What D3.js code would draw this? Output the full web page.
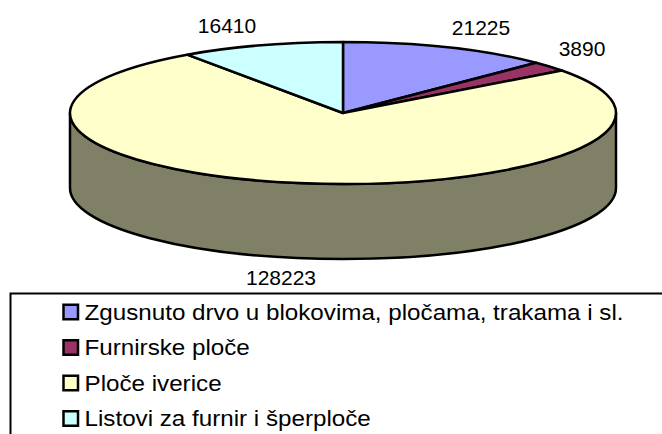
<!DOCTYPE html>
<html>
<head>
<meta charset="utf-8">
<script src="https://d3js.org/d3.v7.min.js"></script>
<style>
  html, body { margin: 0; padding: 0; background: #fff; overflow: hidden; }
  text { font-family: "Liberation Sans", Arial, sans-serif; fill: #000; }
</style>
</head>
<body>
<div id="visualization"></div>
<script>
const categories = ["Zgusnuto drvo u blokovima, pločama, trakama i sl.", "Furnirske ploče", "Ploče iverice", "Listovi za furnir i šperploče"];
const values = [21225, 3890, 128223, 16410];
const sliceColors = ["#9999ff", "#993366", "#ffffcc", "#ccffff"];
const sideColor = "#808066";

const width = 662, height = 434;
const cx = 343, cy = 113, rx = 273, ry = 71, depth = 75;

// where each value label sits, same order as values
const labelX = [481, 582, 281, 227];
const labelY = [35, 56, 285, 33];

const svg = d3.select("#visualization")
    .append("svg")
    .attr("width", width)
    .attr("height", height)
    .style("display", "block");

const pieData = d3.pie().sort(null)(values);
const arc = d3.arc().innerRadius(0).outerRadius(rx);

// side wall first, the top of the pie goes over it
svg.append("path")
    .attr("d", `M${cx - rx},${cy} A${rx},${ry} 0 0 0 ${cx + rx},${cy} V${cy + depth} A${rx},${ry} 0 0 1 ${cx - rx},${cy + depth} Z`)
    .attr("fill", sideColor)
    .attr("stroke", "#000")
    .attr("stroke-width", 2.5);

svg.append("g")
    .attr("transform", `translate(${cx},${cy}) scale(1,${ry / rx})`)
    .selectAll("path")
    .data(pieData)
    .enter()
    .append("path")
        .attr("d", arc)
        .attr("fill", (d, i) => sliceColors[i])
        .attr("stroke", "#000")
        .attr("stroke-width", 2.5)
        .attr("stroke-linejoin", "round")
        .attr("vector-effect", "non-scaling-stroke");

svg.selectAll(".value-label")
    .data(values)
    .enter()
    .append("text")
        .attr("class", "value-label")
        .attr("x", (d, i) => labelX[i])
        .attr("y", (d, i) => labelY[i])
        .attr("text-anchor", "middle")
        .style("font-size", "21px")
        .text(d => d);

// legend box runs off the right and bottom of the picture
svg.append("rect")
    .attr("x", 10.5)
    .attr("y", 293.5)
    .attr("width", 700)
    .attr("height", 200)
    .attr("fill", "#fff")
    .attr("stroke", "#000")
    .attr("stroke-width", 2);

const legendY = d3.scalePoint()
    .domain(categories)
    .range([312, 418.5]);

const legend = svg.selectAll(".legend-row")
    .data(categories)
    .enter()
    .append("g")
        .attr("class", "legend-row")
        .attr("transform", d => `translate(0,${legendY(d)})`);

legend.append("rect")
    .attr("x", 63.5)
    .attr("y", -7.25)
    .attr("width", 14.5)
    .attr("height", 14.5)
    .attr("fill", (d, i) => sliceColors[i])
    .attr("stroke", "#000")
    .attr("stroke-width", 2.5);

// reference text is a little wider than it is tall
legend.append("text")
    .attr("transform", "translate(84.5,7.5) scale(1.1,1)")
    .style("font-size", "22px")
    .text(d => d);
</script>
</body>
</html>
